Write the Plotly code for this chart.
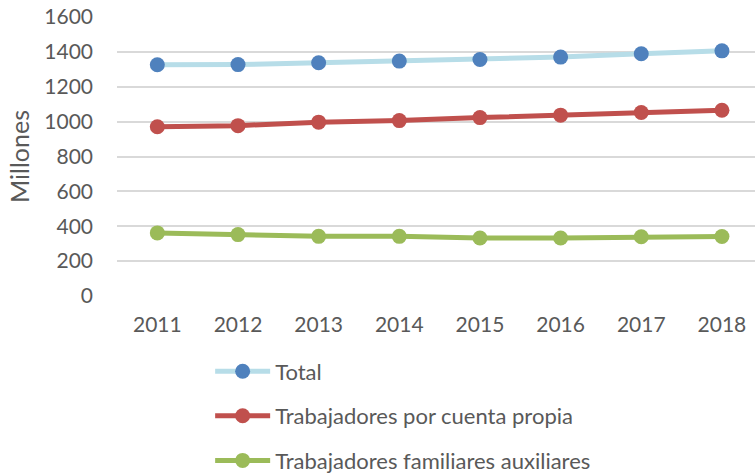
import plotly.graph_objects as go

years = ["2011", "2012", "2013", "2014", "2015", "2016", "2017", "2018"]
total = [1326, 1327, 1338, 1347, 1356, 1370, 1389, 1406]
cuenta_propia = [971, 977, 997, 1006, 1023, 1037, 1052, 1065]
familiares = [362, 352, 342, 342, 333, 333, 340, 341]

names = ["Total", "Trabajadores por cuenta propia", "Trabajadores familiares auxiliares"]
line_colors = ["#b7dde8", "#c0504d", "#9bbb59"]
marker_colors = ["#4f81bd", "#c0504d", "#9bbb59"]
series = [total, cuenta_propia, familiares]

fig = go.Figure()
for i, (nm, vals) in enumerate(zip(names, series)):
    fig.add_trace(go.Scatter(
        x=years, y=vals, name=nm, mode="lines+markers",
        line=dict(color=line_colors[i], width=5),
        marker=dict(color=marker_colors[i], size=15),
        legendgroup=f"g{i}",
    ))

font_color = "#595959"
fig.update_layout(
    width=755, height=476,
    margin=dict(l=117, r=0, t=17, b=180, autoexpand=False),
    paper_bgcolor="white", plot_bgcolor="white",
    font=dict(family="Lato, Open Sans, sans-serif", size=21, color=font_color),
    showlegend=True,
    legend=dict(
        x=0.146, y=-0.195, xanchor="left", yanchor="top",
        orientation="v", tracegroupgap=13, itemwidth=55,
        font=dict(size=22, color=font_color),
        bgcolor="rgba(0,0,0,0)",
    ),
    xaxis=dict(
        type="category", range=[-0.5, 7.41], automargin=False,
        showgrid=False, showline=False, zeroline=False,
        ticks="", ticklabelstandoff=14, tickfont=dict(size=21, color=font_color),
    ),
    yaxis=dict(
        range=[0, 1600], dtick=200, tick0=0, automargin=False,
        showgrid=True, gridcolor="#d9d9d9", gridwidth=1.5,
        zeroline=False, showline=False, ticks="", ticklabelstandoff=23,
        tickfont=dict(size=21, color=font_color),
        title=dict(text="Millones", font=dict(size=25, color=font_color), standoff=7),
    ),
)

fig.write_html(
    "out.html",
    config={"displayModeBar": False},
    post_script="document.body.style.margin='0';document.body.style.overflow='hidden';",
)
